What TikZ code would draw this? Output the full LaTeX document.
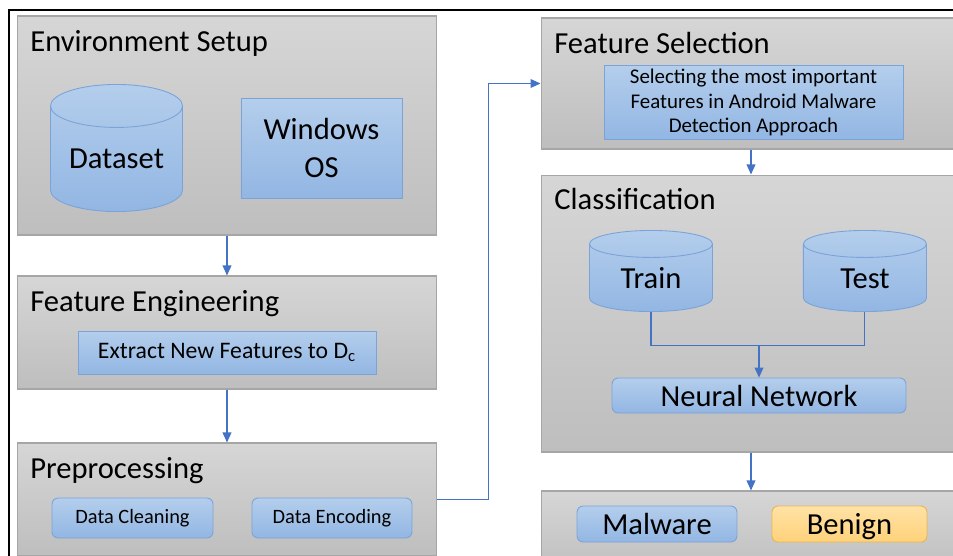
\documentclass[tikz,border=0pt]{standalone}
\usepackage{fontspec}
\setmainfont{Carlito}
\usepackage{tikz}
\usetikzlibrary{arrows.meta}
\usetikzlibrary{positioning}
\tikzset{>={Triangle[length=5.7pt,width=5pt]}}

\definecolor{panelTop}{HTML}{D6D6D6}
\definecolor{panelBot}{HTML}{BEBEBE}
\definecolor{panelLine}{HTML}{A6A6A6}
\definecolor{blueTop}{HTML}{B4CEEC}
\definecolor{blueBot}{HTML}{92B6E3}
\definecolor{blueLine}{HTML}{7BA3D8}
\definecolor{goldTop}{HTML}{FFE2A6}
\definecolor{goldBot}{HTML}{FFD27A}
\definecolor{goldLine}{HTML}{E9B54F}
\definecolor{arrowBlue}{HTML}{4472C4}

\newcommand{\bigtxt}{\fontsize{17.4}{21.5}\selectfont}
\newcommand{\smalltxt}{\fontsize{11.6}{13.9}\selectfont}

% cylinder drawn inside its node: #1 = x radius, #2 = y radius of the cap
\newcommand{\dbdraw}[2]{%
	\path[draw=blueLine, line width=0.5pt, top color=blueTop, bottom color=blueBot]
		([shift={(0.25pt,-#2-0.25pt)}]path picture bounding box.north west)
		-- ([shift={(0.25pt,#2+0.25pt)}]path picture bounding box.south west)
		arc[start angle=180, end angle=360, x radius=#1, y radius=#2]
		-- ([shift={(-0.25pt,-#2-0.25pt)}]path picture bounding box.north east)
		arc[start angle=0, end angle=180, x radius=#1, y radius=#2] -- cycle;
	\draw[blueLine, line width=0.5pt]
		([shift={(0.25pt,-#2-0.25pt)}]path picture bounding box.north west)
		arc[start angle=180, end angle=360, x radius=#1, y radius=#2];}

\begin{document}
\begin{tikzpicture}[x=0.02cm, y=-0.02cm, on grid,
	panel/.style={draw=panelLine, line width=0.6pt, top color=panelTop, bottom color=panelBot, minimum width=8.4cm, inner sep=0pt},
	title/.style={anchor=base west, inner sep=0pt, font=\bigtxt},
	box/.style={draw=blueLine, line width=0.5pt, top color=blueTop, bottom color=blueBot, inner sep=2pt},
	rbox/.style={box, rounded corners=3.5pt},
	gbox/.style={rbox, draw=goldLine, top color=goldTop, bottom color=goldBot},
	db/.style n args={3}{rectangle, inner sep=0pt, font=\bigtxt, text depth=0pt, minimum width=#1, minimum height=#2, path picture={\dbdraw{#1/2-0.25pt}{#3}}},
	link/.style={draw=arrowBlue, line width=0.6pt}]
	\useasboundingbox (0,0) rectangle (953,555);
	\clip (0,0) rectangle (953,555);

	% frame
	\draw[line width=1.2pt] (9,560) -- (9,10) -- (960,10);

	% left column
	\node[panel, minimum height=4.38cm] (env) at (227,125.5) {};
	\node[panel, minimum height=2.26cm] (fe) at (227,332.5) {};
	\node[panel, minimum height=2.26cm] (pre) at (227,499.5) {};
	\node[title] (envT) at (30,51) {Environment Setup};
	\node[title] (feT) at (30,311.5) {Feature Engineering};
	\node[title] (preT) at (30,478) {Preprocessing};

	\node[db={2.66cm}{2.56cm}{0.43cm}, text height=22.8pt] (dataset) at (116.5,148) {Dataset};
	\node[box, minimum width=3.22cm, minimum height=2cm, align=center, font=\bigtxt] (winos) [right=4.1cm of dataset] {Windows\\OS};
	\node[box, minimum width=5.96cm, minimum height=0.86cm, font=\fontsize{13.5}{16}\selectfont] (extract) at (227,352.5) {Extract New Features to D\textsubscript{c}};
	\node[rbox, minimum width=3.22cm, minimum height=0.8cm, font=\smalltxt] (clean) at (132.5,518) {Data Cleaning};
	\node[rbox, minimum width=3.2cm, minimum height=0.8cm, font=\smalltxt] (encode) [right=3.99cm of clean] {Data Encoding};

	% right column
	\node[panel, minimum height=2.62cm] (fs) at (751,83.5) {};
	\node[panel, minimum height=5.54cm] (cls) at (751,313.5) {};
	\node[panel, minimum height=1.68cm] (out) at (751,533) {};
	\node[title] (fsT) at (554,53) {Feature Selection};
	\node[title] (clsT) at (554,209) {Classification};

	\node[box, minimum width=5.98cm, minimum height=1.46cm, align=center, font=\fontsize{11.9}{13.9}\selectfont] (select) at (753.5,102.5) {Selecting the most important\\Features in Android Malware\\Detection Approach};
	\node[db={2.48cm}{1.64cm}{0.27cm}, text height=19.4pt] (train) at (651,271) {Train};
	\node[db={2.48cm}{1.64cm}{0.27cm}, text height=19.4pt] (test) [right=4.28cm of train] {Test};
	\node[rbox, minimum width=5.88cm, minimum height=0.7cm, font=\bigtxt] (nn) at (759,395.5) {Neural Network};
	\node[rbox, minimum width=3.2cm, minimum height=0.72cm, text depth=0pt, font=\bigtxt] (mal) at (657,524) {Malware};
	\node[gbox, minimum width=3.1cm, minimum height=0.72cm, text depth=0pt, font=\bigtxt] (ben) [right=3.85cm of mal] {Benign};

	% connectors
	\draw[link, ->] (env) -- (fe);
	\draw[link, ->] (fe) -- (pre);
	\draw[link, ->] (pre.east) -- ++(51,0) |- (fs.west);
	\draw[link, ->] (fs) -- (cls);
	\draw[link, ->] (cls) -- (out);
	\draw[link] (train.south) -- ++(0,33) coordinate (tj) -| (test.south);
	\draw[link, ->] (tj -| nn.north) -- (nn.north);
\end{tikzpicture}
\end{document}
